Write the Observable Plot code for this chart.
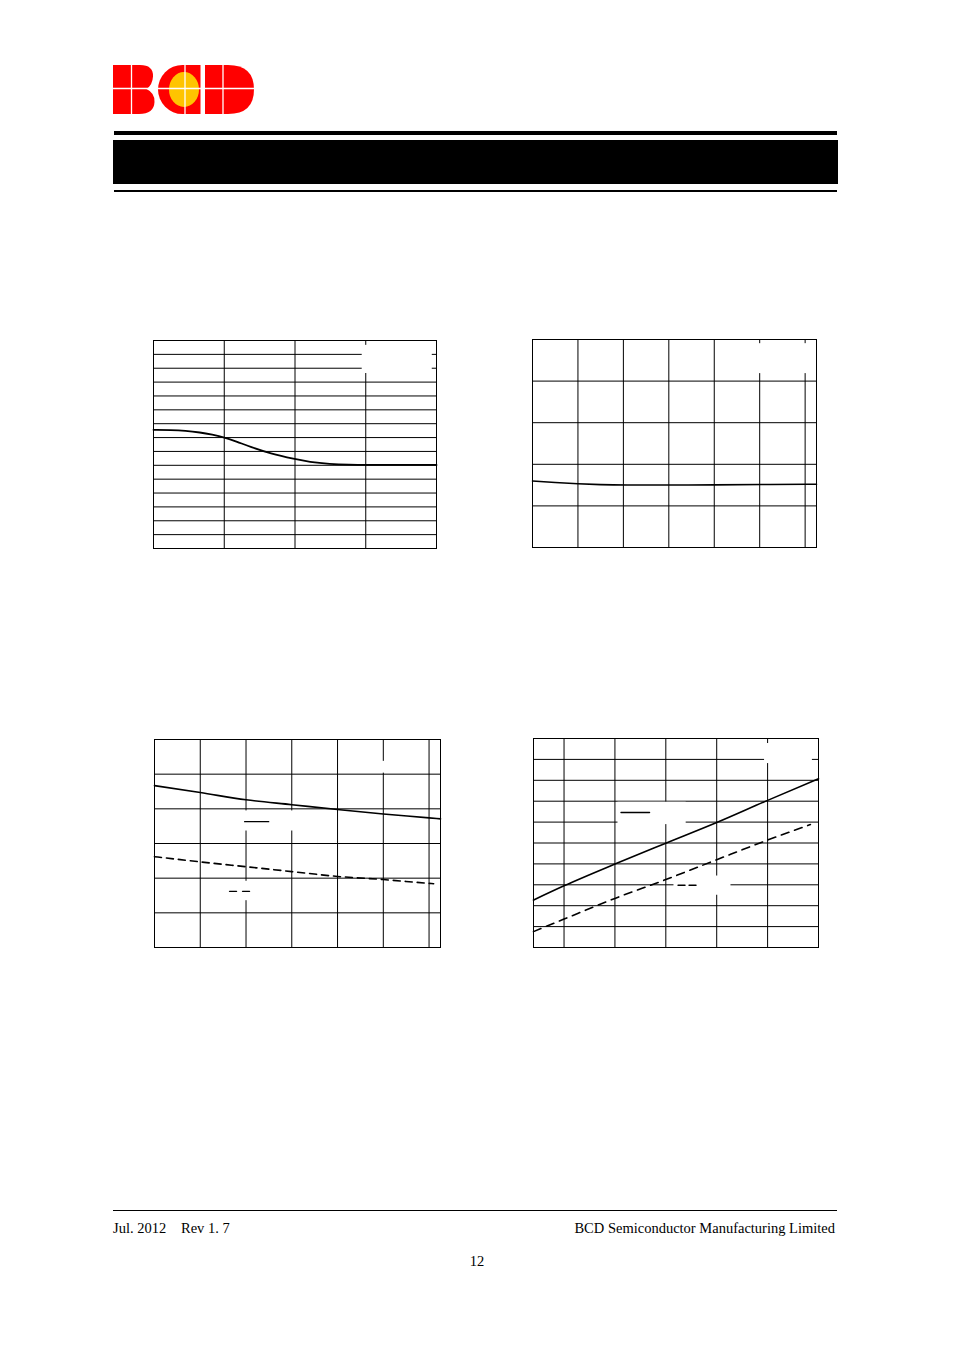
<!DOCTYPE html>
<html>
<head>
<meta charset="utf-8">
<script src="https://cdn.jsdelivr.net/npm/d3@7"></script>
<script src="https://cdn.jsdelivr.net/npm/@observablehq/plot@0.6"></script>
<style>
  html, body { margin: 0; padding: 0; background: #fff; }
  #page { position: relative; width: 954px; height: 1350px; background: #fff; overflow: hidden; font-family: "Liberation Serif", "DejaVu Serif", serif; }
  .abs { position: absolute; }
  .bar { position: absolute; background: #000; }
  .chart svg { display: block; background: transparent; overflow: visible; }
  .foot { position: absolute; font-size: 14.5px; color: #000; white-space: nowrap; line-height: 1; }
</style>
</head>
<body>
<div id="page">
  <svg class="abs" style="left:108px;top:60px" width="152" height="60" viewBox="108 60 152 60">
    <path d="M113,65 L140,65 Q153.5,65 153,76.5 Q152.5,85 146.5,89 Q155,93 154.5,102 Q154,114 139,114 L113,114 Z" fill="#ff0000"/>
    <path d="M200.5,65 L182.5,65 A24.5,24.5 0 0 0 182.5,114 L200.5,114 Z" fill="#ff0000"/>
    <ellipse cx="184" cy="89.5" rx="15" ry="17.5" fill="#ffc400"/>
    <path d="M205,65 L228,65 Q254,65 254,89.5 Q254,114 228,114 L205,114 Z" fill="#ff0000"/>
    <g stroke="#fff" stroke-width="1.3">
      <line x1="131.5" y1="64" x2="131.5" y2="115"/>
      <line x1="185" y1="64" x2="185" y2="115"/>
      <line x1="223" y1="64" x2="223" y2="115"/>
      <line x1="112" y1="88.5" x2="256" y2="88.5"/>
    </g>
  </svg>
  <div class="bar" style="left:114px;top:131px;width:723px;height:4px"></div>
  <div class="bar" style="left:113px;top:140px;width:725px;height:44px"></div>
  <div class="bar" style="left:114px;top:190px;width:723px;height:2px"></div>

  <div id="c1" class="chart abs"></div>
  <div id="c2" class="chart abs"></div>
  <div id="c3" class="chart abs"></div>
  <div id="c4" class="chart abs"></div>

  <div class="bar" style="left:113px;top:1210px;width:724px;height:1px"></div>
  <div class="foot" style="left:113px;top:1221px">Jul. 2012</div>
  <div class="foot" style="left:181px;top:1221px">Rev 1. 7</div>
  <div class="foot" style="right:119px;top:1221px">BCD Semiconductor Manufacturing Limited</div>
  <div class="foot" style="left:0;width:954px;text-align:center;top:1254px">12</div>
</div>
<script>
// ---------- data ----------
// Chart 1 (top-left): x in grid divisions, y in grid divisions
const c1X = [0, 0.25, 0.45, 0.66, 0.83, 1.0, 1.18, 1.37, 1.65, 2.0, 2.2, 2.49, 2.77, 3.0, 3.5, 4.0];
const c1Y = [8.56, 8.55, 8.5, 8.37, 8.21, 8.02, 7.7, 7.33, 6.85, 6.44, 6.24, 6.09, 6.04, 6.03, 6.03, 6.03];
const c1GridX = [1, 2, 3];
const c1GridY = [1, 2, 3, 4, 5, 6, 7, 8, 9, 10, 11, 12, 13, 14];

// Chart 2 (top-right): temperature axis
const c2T = [-40, -30, -20, -10, 0, 20, 40, 60, 85];
const c2Y = [1.6, 1.56, 1.53, 1.51, 1.5, 1.5, 1.505, 1.515, 1.52];
const c2GridX = [-20, 0, 20, 40, 60, 80];
const c2GridY = [1, 2, 3, 4];

// Chart 3 (bottom-left): two series vs temperature
const c3T = [-40, -20, 0, 20, 40, 60, 80, 85];
const c3Solid = [4.67, 4.47, 4.26, 4.12, 3.98, 3.85, 3.74, 3.71];
const c3DashT = [-40, -20, 0, 20, 40, 60, 80, 82];
const c3Dash = [2.62, 2.47, 2.33, 2.19, 2.05, 1.96, 1.85, 1.84];
const c3GridX = [-20, 0, 20, 40, 60, 80];
const c3GridY = [1, 2, 3, 4, 5];

// Chart 4 (bottom-right): two series vs voltage
const c4V = [2.7, 3.0, 3.5, 4.0, 4.5, 5.0, 5.5];
const c4Solid = [2.27, 2.95, 3.99, 4.99, 5.98, 7.04, 8.07];
const c4DashV = [2.7, 3.0, 3.5, 4.0, 4.5, 5.0, 5.42];
const c4Dash = [0.76, 1.36, 2.35, 3.25, 4.2, 5.14, 5.88];
const c4GridX = [3.0, 3.5, 4.0, 4.5, 5.0];
const c4GridY = [1, 2, 3, 4, 5, 6, 7, 8, 9];

// ---------- helpers ----------
const zip = (xs, ys) => xs.map((x, i) => ({x, y: ys[i]}));

function chart(id, cfg) {
  const el = document.getElementById(id);
  el.style.left = (cfg.left - 1) + "px";
  el.style.top = (cfg.top - 1) + "px";
  const marks = [
    Plot.ruleX(cfg.gridX, {stroke: "#000", strokeWidth: 1}),
    Plot.ruleY(cfg.gridY, {stroke: "#000", strokeWidth: 1}),
    ...cfg.boxes.map(b => Plot.rect([b], {x1: "x1", x2: "x2", y1: "y1", y2: "y2", fill: "#fff"})),
    ...cfg.series.map(s => Plot.line(s.data, {x: "x", y: "y", stroke: "#000", strokeWidth: s.w || 1.6, strokeDasharray: s.dash, curve: s.curve || "monotone-x"})),
    ...(cfg.swatches || []).map(s => Plot.line([{x: s.x1, y: s.y}, {x: s.x2, y: s.y}], {x: "x", y: "y", stroke: "#000", strokeWidth: 1.4, strokeDasharray: s.dash})),
    Plot.frame({stroke: "#000", strokeWidth: 1})
  ];
  const p = Plot.plot({
    width: cfg.w + 2, height: cfg.h + 2,
    marginLeft: 1, marginRight: 1, marginTop: 1, marginBottom: 1,
    x: {domain: cfg.xDomain, axis: null},
    y: {domain: cfg.yDomain, axis: null},
    style: {background: "transparent", overflow: "visible"},
    marks
  });
  el.appendChild(p);
}

chart("c1", {
  left: 153, top: 340, w: 283, h: 208,
  xDomain: [0, 4], yDomain: [0, 15],
  gridX: c1GridX, gridY: c1GridY,
  boxes: [{x1: 2.95, x2: 3.94, y1: 12.62, y2: 14.65}],
  series: [{data: zip(c1X, c1Y), w: 1.8, curve: "basis"}]
});

chart("c2", {
  left: 532, top: 339, w: 284, h: 208,
  xDomain: [-40, 85], yDomain: [0, 5],
  gridX: c2GridX, gridY: c2GridY,
  boxes: [{x1: 51, x2: 83, y1: 4.18, y2: 4.9}],
  series: [{data: zip(c2T, c2Y), w: 1.6, curve: "basis"}]
});

chart("c3", {
  left: 154, top: 739, w: 286, h: 208,
  xDomain: [-40, 85], yDomain: [0, 6],
  gridX: c3GridX, gridY: c3GridY,
  boxes: [
    {x1: 54, x2: 68, y1: 5.03, y2: 5.37},
    {x1: -2.5, x2: 22.4, y1: 3.36, y2: 3.94},
    {x1: -9, x2: 17, y1: 1.35, y2: 1.91}
  ],
  series: [
    {data: zip(c3T, c3Solid), w: 1.6},
    {data: zip(c3DashT, c3Dash), w: 1.6, dash: "7,5"}
  ],
  swatches: [
    {x1: -0.6, x2: 9.9, y: 3.63},
    {x1: -7.2, x2: 1.85, y: 1.62, dash: "7,6"}
  ]
});

chart("c4", {
  left: 533, top: 738, w: 285, h: 209,
  xDomain: [2.7, 5.5], yDomain: [0, 10],
  gridX: c4GridX, gridY: c4GridY,
  boxes: [
    {x1: 4.97, x2: 5.44, y1: 8.8, y2: 9.76},
    {x1: 3.53, x2: 4.2, y1: 5.88, y2: 6.95},
    {x1: 4.08, x2: 4.64, y1: 2.5, y2: 3.42}
  ],
  series: [
    {data: zip(c4V, c4Solid), w: 1.6},
    {data: zip(c4DashV, c4Dash), w: 1.6, dash: "8,6"}
  ],
  swatches: [
    {x1: 3.56, x2: 3.84, y: 6.46},
    {x1: 4.12, x2: 4.32, y: 2.98, dash: "7,4"}
  ]
});
</script>
</body>
</html>
